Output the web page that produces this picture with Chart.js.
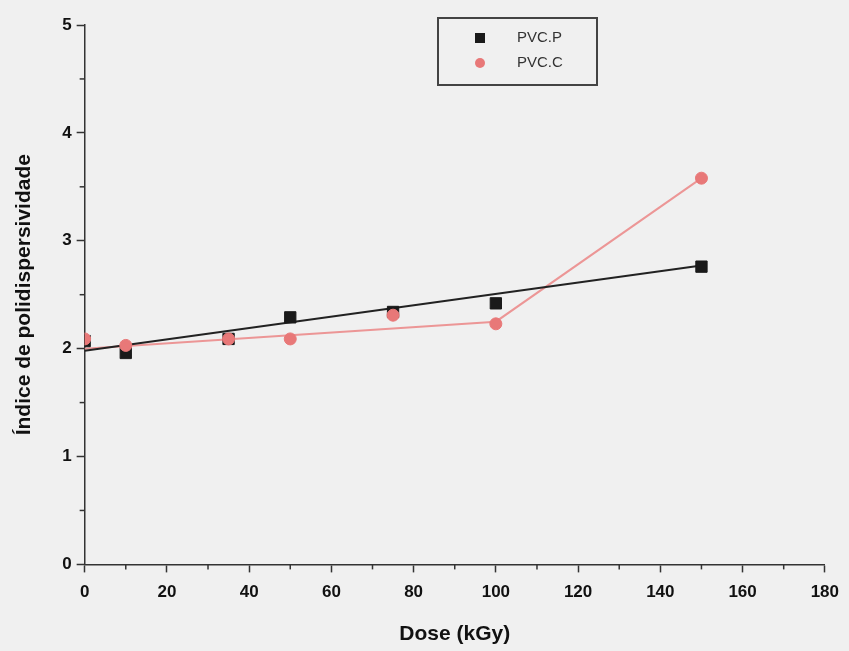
<!DOCTYPE html>
<html>
<head>
<meta charset="utf-8">
<script src="https://cdn.jsdelivr.net/npm/chart.js@4/dist/chart.umd.min.js"></script>
<style>
  body { margin: 0; background: #f0f0f0; }
  #wrap { width: 849px; height: 651px; position: relative; }
</style>
</head>
<body>
<div id="wrap"><canvas id="grafico"></canvas></div>
<script>
// dados
var dose = [0, 10, 35, 50, 75, 100, 150];
var pvcP = [2.07, 1.96, 2.09, 2.29, 2.34, 2.42, 2.76];
var pvcC = [2.09, 2.03, 2.09, 2.09, 2.31, 2.23, 3.58];
// linhas de ajuste
var ajusteP_x = [0, 150];
var ajusteP_y = [1.98, 2.77];
var ajusteC_x = [0, 100, 150];
var ajusteC_y = [2.00, 2.25, 3.58];
var xTicks = [0, 20, 40, 60, 80, 100, 120, 140, 160, 180];
var yTicks = [0, 1, 2, 3, 4, 5];

var rosa = 'rgb(232,120,120)';
var rosaLinha = 'rgb(236,150,150)';

function pares(xs, ys) {
  var out = [];
  xs.forEach(function (x, i) { out.push({x: x, y: ys[i]}); });
  return out;
}

// ticks menores + legenda com caixa
var extras = {
  id: 'extras',
  afterDraw: function (chart) {
    var c = chart.ctx;
    var sx = chart.scales.x, sy = chart.scales.y;
    c.save();
    c.strokeStyle = '#333';
    c.lineWidth = 1.5;
    for (var v = 10; v < 180; v += 20) {
      var px = sx.getPixelForValue(v);
      c.beginPath(); c.moveTo(px, sy.bottom); c.lineTo(px, sy.bottom + 5); c.stroke();
    }
    for (var w = 0.5; w < 5; w += 1) {
      var py = sy.getPixelForValue(w);
      c.beginPath(); c.moveTo(sx.left, py); c.lineTo(sx.left - 5, py); c.stroke();
    }
    // legenda
    c.strokeStyle = '#444';
    c.lineWidth = 2;
    c.strokeRect(438, 18, 159, 67);
    c.fillStyle = '#1a1a1a';
    c.fillRect(475, 33, 10, 10);
    c.fillStyle = rosa;
    c.beginPath(); c.arc(480, 63, 5, 0, Math.PI * 2); c.fill();
    c.fillStyle = '#333';
    c.font = '15px "Liberation Sans", Arial, sans-serif';
    c.textBaseline = 'middle';
    c.fillText('PVC.P', 517, 38);
    c.fillText('PVC.C', 517, 63);
    c.restore();
  }
};

var tickFont = { family: '"Liberation Sans", Arial, sans-serif', size: 17, weight: 'bold' };
var titleFont = { family: '"Liberation Sans", Arial, sans-serif', size: 21, weight: 'bold' };

new Chart(document.getElementById('grafico'), {
  type: 'scatter',
  data: {
    datasets: [
      {
        label: 'ajuste P', type: 'line', data: pares(ajusteP_x, ajusteP_y),
        borderColor: '#222', borderWidth: 2, pointRadius: 0, fill: false, order: 3
      },
      {
        label: 'ajuste C', type: 'line', data: pares(ajusteC_x, ajusteC_y),
        borderColor: rosaLinha, borderWidth: 2, pointRadius: 0, fill: false, order: 3
      },
      {
        label: 'PVC.P', data: pares(dose, pvcP),
        pointStyle: 'rect', pointRadius: 8, backgroundColor: '#1a1a1a', borderColor: '#1a1a1a', order: 2
      },
      {
        label: 'PVC.C', data: pares(dose, pvcC),
        pointStyle: 'circle', pointRadius: 6, backgroundColor: rosa, borderColor: rosa, order: 1
      }
    ]
  },
  options: {
    responsive: true,
    maintainAspectRatio: false,
    animation: false,
    layout: { padding: { top: 25, right: 13, bottom: 0, left: 8 } },
    plugins: { legend: { display: false }, tooltip: { enabled: false } },
    scales: {
      x: {
        type: 'linear', min: 0, max: 180,
        afterBuildTicks: function (s) { s.ticks = xTicks.map(function (v) { return {value: v}; }); },
        ticks: { font: tickFont, color: '#111', padding: 10, maxRotation: 0 },
        grid: { drawOnChartArea: false, tickLength: 8, tickColor: '#333', tickWidth: 1.5 },
        border: { color: '#333', width: 1.5 },
        title: { display: true, text: 'Dose (kGy)', font: titleFont, color: '#111', padding: { top: 9, bottom: 4 } }
      },
      y: {
        type: 'linear', min: 0, max: 5,
        afterBuildTicks: function (s) { s.ticks = yTicks.map(function (v) { return {value: v}; }); },
        ticks: { font: tickFont, color: '#111', padding: 5 },
        grid: { drawOnChartArea: false, tickLength: 8, tickColor: '#333', tickWidth: 1.5 },
        border: { color: '#333', width: 1.5 },
        title: { display: true, text: 'Índice de polidispersividade', font: titleFont, color: '#111', padding: { bottom: 20 } }
      }
    }
  },
  plugins: [extras]
});
</script>
</body>
</html>
